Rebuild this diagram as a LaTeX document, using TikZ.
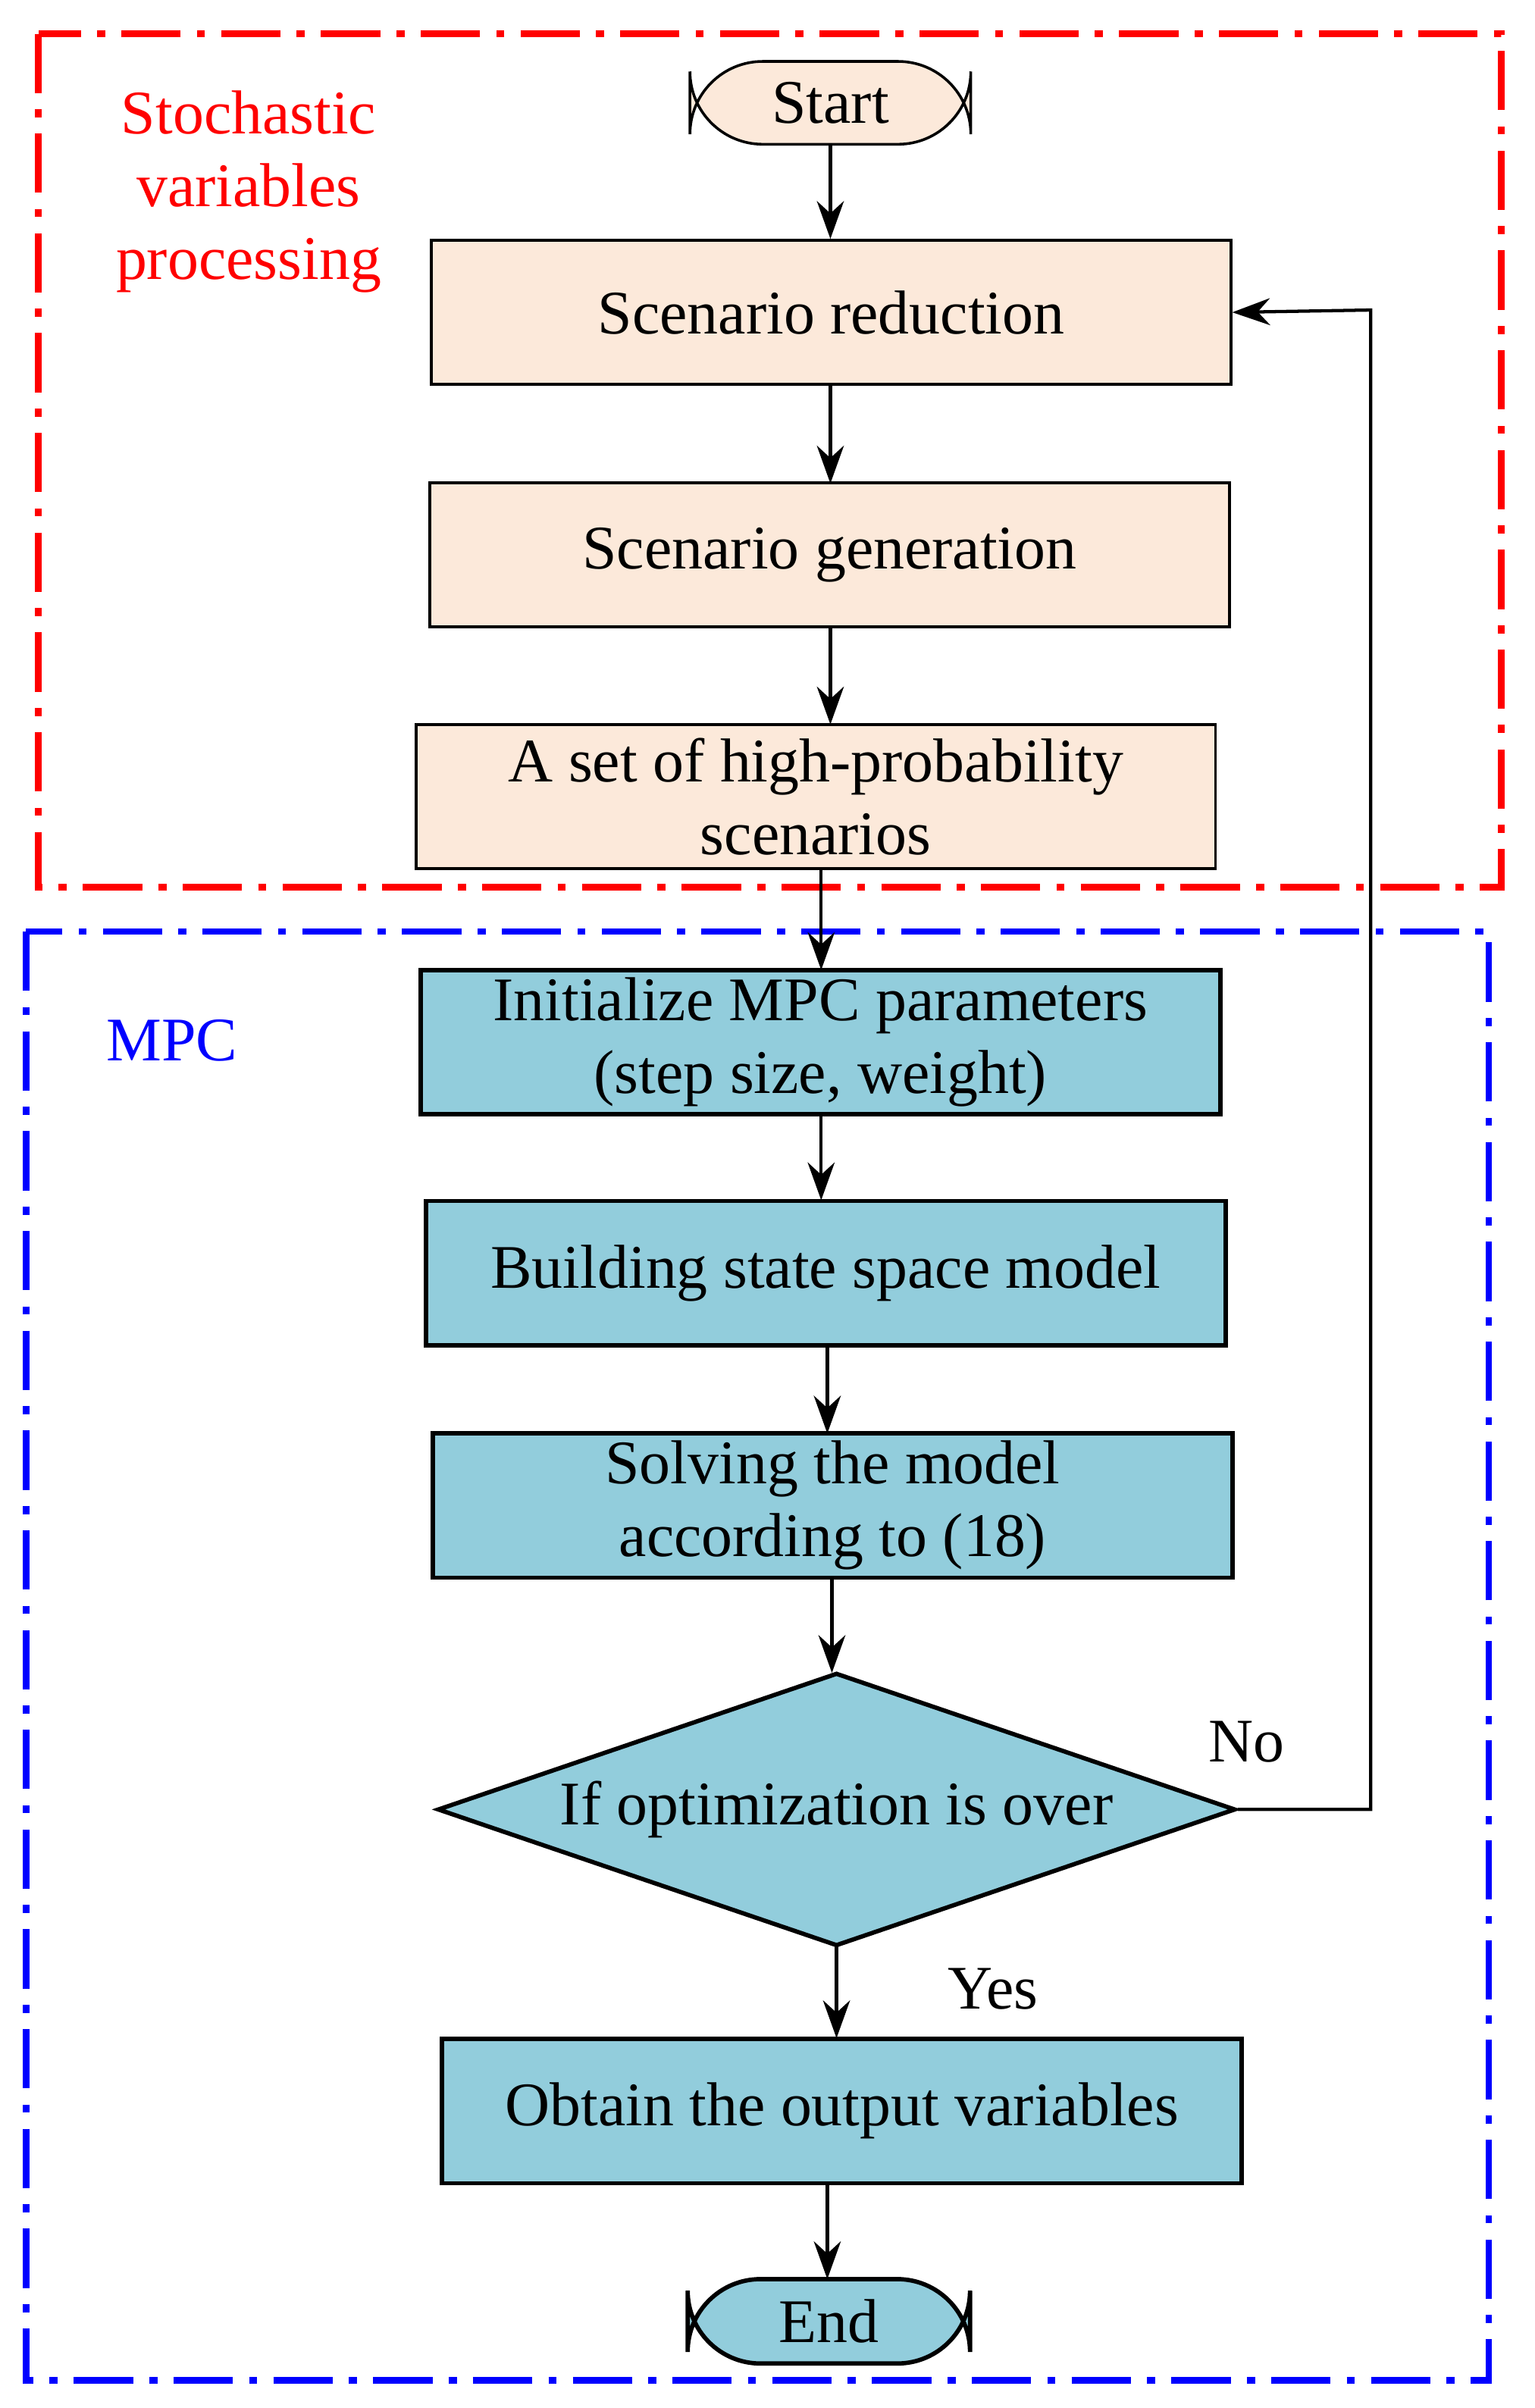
\documentclass[tikz,border=0pt]{standalone}
\usepackage{fontspec}
\setmainfont{Liberation Serif}
\usetikzlibrary{shapes.geometric,arrows.meta}
\definecolor{peach}{HTML}{FCE9DA}
\definecolor{teal}{HTML}{92CDDC}
\begin{document}
\begin{tikzpicture}[x=0.02cm,y=-0.02cm,
  font=\fontsize{23}{27}\selectfont,
  box/.style={draw,line width=1pt,minimum width=10.42cm,minimum height=1.88cm,align=center,inner sep=0pt},
  pbox/.style={box,fill=peach},
  bbox/.style={box,fill=teal,line width=1.6pt},
  arr/.style={-{Stealth[length=14pt,width=10pt]},line width=1.2pt},
  frame/.style={line width=2.4pt,dash pattern=on 22pt off 6pt on 3pt off 6pt}]
\useasboundingbox (0,0) rectangle (1000,1569);
\draw[frame,red] (25,22) rectangle (978,578);
\draw[frame,blue] (17,607) rectangle (970,1551);
\node[text=red,align=center] (lab1) at (162,125) {Stochastic\\variables\\processing};
\node[text=blue] (lab2) at (112,678) {MPC};
\node[draw,fill=peach,rounded corners=27pt,minimum width=3.66cm,minimum height=1.08cm,line width=1pt] (start) at (541,67) {Start};
\node[pbox] (red) at (541.5,203.5) {Scenario reduction};
\node[pbox] (gen) at (540.5,361.5) {Scenario generation};
\node[pbox] (set) at (531.5,519) {A set of high-probability\\scenarios};
\node[bbox] (init) at (534.5,679) {Initialize MPC parameters\\(step size, weight)};
\node[bbox] (build) at (538,829.5) {Building state space model};
\node[bbox] (solve) at (542.5,981) {Solving the model\\according to (18)};
\node[draw,fill=teal,diamond,line width=1.6pt,minimum width=10.4cm,minimum height=3.56cm,inner sep=0pt,text width=0.1cm] (dia) at (545,1179) {};
\node (diat) at (545,1179) {If optimization is over};
\node[bbox] (obt) at (548.5,1375.5) {Obtain the output variables};
\node[draw,fill=teal,rounded corners=27pt,minimum width=3.68cm,minimum height=1.1cm,line width=1.6pt] (end) at (540,1512.5) {End};
\node (no) at (812,1135) {No};
\node (yes) at (647,1296) {Yes};
\coordinate (c1) at (893,1179);
\coordinate (c2) at (893,202);
\draw[arr] (start) -- (start |- red.north);
\draw[arr] (541,250) -- (541,315);
\draw[arr] (541,408) -- (541,472);
\draw[arr] (535,566) -- (535,632);
\draw[arr] (535,726) -- (535,782);
\draw[arr] (539,877) -- (539,934);
\draw[arr] (542,1028) -- (542,1090);
\draw[arr] (545,1268) -- (545,1328);
\draw[arr] (539,1423) -- (539,1485);
\draw[arr] (dia.east) -- (c1) -- (c2) -- (red.east);
\end{tikzpicture}
\end{document}
